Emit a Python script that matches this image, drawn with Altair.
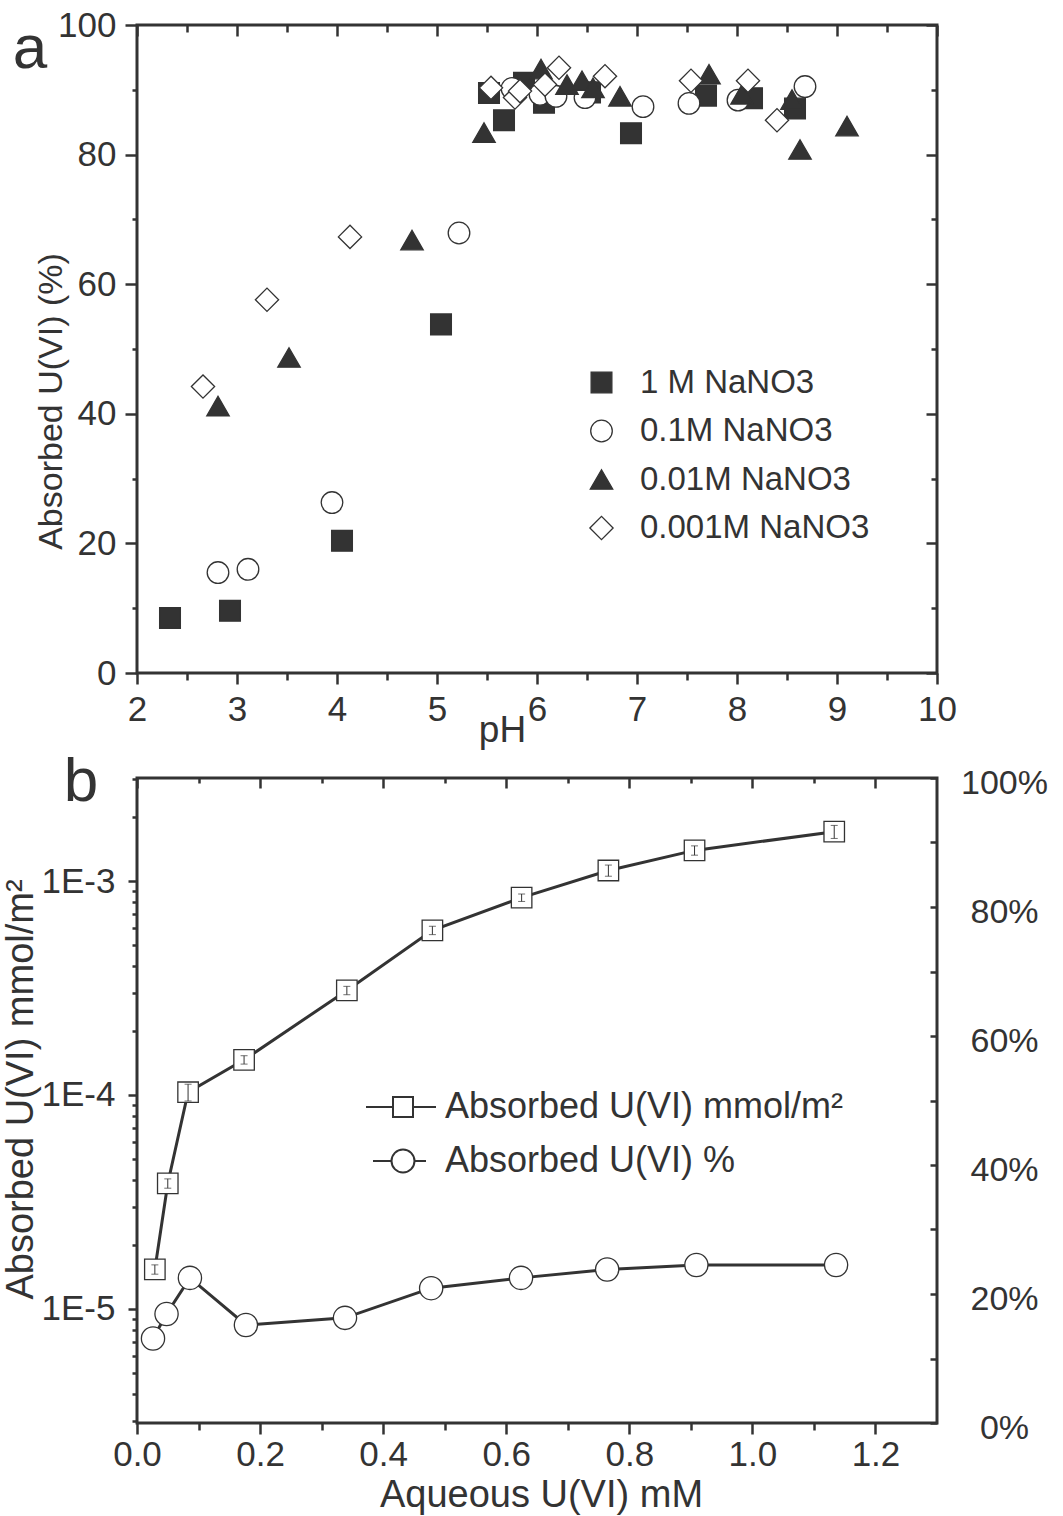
import altair as alt
import pandas as pd

INK = "#333333"
FONT = "Liberation Sans"

# ---------------- panel a: uptake vs pH at four ionic strengths ----------------
series_names = ["1 M NaNO3", "0.1M NaNO3", "0.01M NaNO3", "0.001M NaNO3"]
series_shapes = ["square", "circle", "triangle-up", "diamond"]
series_fills = [INK, "white", INK, "white"]
series_strokes = [INK, INK, INK, INK]
series_sizes = [430, 540, 700, 680]

ph_1M = [2.33, 2.93, 4.05, 5.04, 5.52, 5.67, 5.87, 6.07, 6.53, 6.94, 7.69, 8.15, 8.58]
up_1M = [8.5, 9.6, 20.4, 53.8, 89.5, 85.3, 91.1, 88.0, 89.6, 83.3, 89.1, 88.7, 87.1]

ph_01M = [2.81, 3.11, 3.95, 5.22, 5.75, 6.03, 6.19, 6.48, 7.06, 7.52, 8.01, 8.68]
up_01M = [15.5, 16.0, 26.3, 67.9, 90.2, 89.3, 89.0, 88.8, 87.4, 87.9, 88.4, 90.5]

ph_001M = [2.81, 3.52, 4.75, 5.47, 6.04, 6.30, 6.45, 6.56, 6.83, 7.72, 8.05, 8.55, 8.63, 9.10]
up_001M = [41.2, 48.7, 66.8, 83.4, 93.2, 90.8, 91.4, 90.3, 89.0, 92.4, 89.3, 88.5, 80.8, 84.4]

ph_0001M = [2.66, 3.30, 4.13, 5.54, 5.78, 5.83, 6.08, 6.22, 6.68, 7.54, 8.11, 8.40]
up_0001M = [44.2, 57.6, 67.3, 90.3, 88.8, 89.8, 90.8, 93.4, 92.1, 91.4, 91.4, 85.3]

ph_ticks = [2 + 0.5 * i for i in range(17)]
pct_ticks = [10 * i for i in range(11)]

# ---------------- panel b: isotherm ----------------
aq_sq = [0.029, 0.050, 0.083, 0.174, 0.341, 0.480, 0.625, 0.766, 0.906, 1.133]
sorbed_mmol = [1.53e-5, 3.86e-5, 1.03e-4, 1.46e-4, 3.08e-4, 5.88e-4, 8.36e-4, 1.12e-3, 1.39e-3, 1.70e-3]
# relative standard deviation of each sorbed amount
sorbed_rel_err = [0.05, 0.05, 0.09, 0.045, 0.045, 0.045, 0.04, 0.06, 0.05, 0.07]

aq_ci = [0.026, 0.048, 0.086, 0.177, 0.338, 0.478, 0.624, 0.764, 0.909, 1.136]
sorbed_pct = [13.1, 16.9, 22.5, 15.2, 16.3, 20.9, 22.5, 23.8, 24.5, 24.5]

legend_b = ["Absorbed U(VI) mmol/m²", "Absorbed U(VI) %"]
legend_b_glyphs = [
    "M-3.7,0H-1M1,0H3.3M-1,-1H1V1H-1Z",
    "M-3,0H-1.15M1.15,0H2.3M-1.15,0A1.15,1.15,0,1,1,1.15,0A1.15,1.15,0,1,1,-1.15,0Z",
]

aq_ticks = [round(0.1 * i, 1) for i in range(13)]
log_ticks = [m * 10.0 ** e for e in (-6, -5, -4, -3) for m in range(1, 10)]
log_ticks = [v for v in log_ticks if 2.95e-6 <= v <= 3.02e-3]

# ---------------- tables ----------------
rows = []
for name, xs, ys in zip(series_names, [ph_1M, ph_01M, ph_001M, ph_0001M],
                        [up_1M, up_01M, up_001M, up_0001M]):
    rows += [{"pH": x, "uptake": y, "series": name} for x, y in zip(xs, ys)]
df_a = pd.DataFrame(rows)
df_sq = pd.DataFrame({"aq": aq_sq, "mmol": sorbed_mmol, "rel": sorbed_rel_err})
df_sq["lo"] = df_sq["mmol"] * (1 - df_sq["rel"])
df_sq["hi"] = df_sq["mmol"] * (1 + df_sq["rel"])
df_ci = pd.DataFrame({"aq": aq_ci, "pct": sorbed_pct})
df_lg = pd.DataFrame({"lg": legend_b})

tick_style = dict(domain=False, grid=False, tickColor=INK, tickWidth=2.5,
                  labelColor=INK, labelFont=FONT, titleColor=INK, titleFont=FONT,
                  titleFontWeight="normal")

# ---------------- panel a ----------------
W, HA, HB = 800, 648, 645
ph_scale = alt.Scale(domain=[2, 10], nice=False, zero=False)
up_scale = alt.Scale(domain=[0, 100], nice=False)

x_bottom_a = alt.Axis(orient="bottom", values=ph_ticks,
                      labelExpr="datum.value % 1 == 0 ? format(datum.value, 'd') : ''",
                      tickSize={"condition": {"test": "datum.value % 1 == 0", "value": 11}, "value": 7},
                      labelFontSize=35, labelPadding=8, labelFlush=False, labelOverlap=False,
                      title="pH", titleFontSize=37, titleX=365, titleY=68,
                      titleBaseline="alphabetic", titleAlign="center", **tick_style)
y_left_a = alt.Axis(orient="left", values=pct_ticks,
                    labelExpr="datum.value % 20 == 0 ? format(datum.value, 'd') : ''",
                    tickSize={"condition": {"test": "datum.value % 20 == 0", "value": 12}, "value": 5},
                    labelFontSize=35, labelPadding=9, labelFlush=False, labelOverlap=False,
                    title="Absorbed U(VI) (%)", titleFontSize=34, titleAngle=270,
                    titleX=-86, titleY=376, titleAlign="center", titleBaseline="middle",
                    **tick_style)

legend_a = alt.Legend(title=None, orient="none", legendX=448, legendY=341,
                      labelFontSize=33, labelFont=FONT, labelColor=INK,
                      labelOffset=22, rowPadding=14.5, padding=0,
                      symbolStrokeWidth=1.3, labelLimit=400)

points_a = alt.Chart(df_a).mark_point(filled=True, strokeWidth=1.3, opacity=1).encode(
    x=alt.X("pH:Q", scale=ph_scale, axis=x_bottom_a),
    y=alt.Y("uptake:Q", scale=up_scale, axis=y_left_a),
    shape=alt.Shape("series:N", scale=alt.Scale(domain=series_names, range=series_shapes), legend=legend_a),
    fill=alt.Fill("series:N", scale=alt.Scale(domain=series_names, range=series_fills), legend=legend_a),
    stroke=alt.Stroke("series:N", scale=alt.Scale(domain=series_names, range=series_strokes), legend=legend_a),
    size=alt.Size("series:N", scale=alt.Scale(domain=series_names, range=series_sizes), legend=legend_a),
)


def inner_ticks(df, xf, yf, xs, ys, xvals, xlen, yvals, ylen):
    """Invisible layer that only carries inward-pointing top/right ticks."""
    return alt.Chart(df).mark_point(opacity=0).encode(
        x=alt.X(xf, scale=xs, axis=alt.Axis(orient="top", values=xvals, labels=False,
                                              tickSize=xlen, offset=-xlen, title=None,
                                              **tick_style)),
        y=alt.Y(yf, scale=ys, axis=alt.Axis(orient="right", values=yvals, labels=False,
                                              tickSize=ylen, offset=-ylen, title=None,
                                              **tick_style)),
    )


ticks_a_major = inner_ticks(df_a, "pH:Q", "uptake:Q", ph_scale, up_scale,
                            [2 + i for i in range(9)], 11, [20 * i for i in range(6)], 11)
ticks_a_minor = inner_ticks(df_a, "pH:Q", "uptake:Q", ph_scale, up_scale,
                            [2.5 + i for i in range(8)], 7, [10 + 20 * i for i in range(5)], 6)

tag_a = alt.Chart(pd.DataFrame({"t": ["a"]})).mark_text(
    fontSize=62, font=FONT, color=INK, align="center", baseline="alphabetic"
).encode(text="t:N", x=alt.value(-107), y=alt.value(43))

panel_a = alt.layer(points_a, ticks_a_major, ticks_a_minor, tag_a).resolve_axis(
    x="independent", y="independent"
).properties(width=W, height=HA)

# ---------------- panel b ----------------
aq_scale = alt.Scale(domain=[0, 1.3], nice=False, zero=False)
mmol_scale = alt.Scale(type="log", domain=[2.93e-6, 3.03e-3], nice=False)
pct_scale = alt.Scale(domain=[0, 100], nice=False)

is_major_aq = "round(datum.value * 10) % 2 == 0"
x_bottom_b = alt.Axis(orient="bottom", values=aq_ticks,
                      labelExpr=f"{is_major_aq} ? format(datum.value, '.1f') : ''",
                      tickSize={"condition": {"test": is_major_aq, "value": 11}, "value": 7},
                      labelFontSize=35, labelPadding=3, labelFlush=False, labelOverlap=False,
                      title="Aqueous U(VI) mM", titleFontSize=38, titleX=404, titleY=83,
                      titleBaseline="alphabetic", titleAlign="center", **tick_style)
is_decade = "abs(log(datum.value) / LN10 - round(log(datum.value) / LN10)) < 0.001"
y_left_b = alt.Axis(orient="left", values=log_ticks,
                    labelExpr=f"{is_decade} ? '1E' + round(log(datum.value) / LN10) : ''",
                    tickSize={"condition": {"test": is_decade, "value": 9}, "value": 5},
                    labelFontSize=35, labelPadding=13, labelFlush=False, labelOverlap=False,
                    title="Absorbed U(VI) mmol/m²", titleFontSize=38, titleAngle=270,
                    titleX=-116, titleY=311, titleAlign="center", titleBaseline="middle",
                    **tick_style)
y_right_b = alt.Axis(orient="right", values=pct_ticks, tickSize=7, offset=-7,
                     labelExpr="datum.value % 20 == 0 ? format(datum.value, 'd') + '%' : ''",
                     labelFontSize=34, labelPadding=67, labelAlign="center", labelOffset=5,
                     labelFlush=False, labelOverlap=False, title=None, **tick_style)
x_top_b_major = alt.Axis(orient="top", values=[0.2 * i for i in range(7)], labels=False,
                         tickSize=10, offset=-10, title=None, **tick_style)
x_top_b_minor = alt.Axis(orient="top", values=[0.1 + 0.2 * i for i in range(6)], labels=False,
                         tickSize=5, offset=-5, title=None, **tick_style)

enc_sq = dict(x=alt.X("aq:Q", scale=aq_scale, axis=x_bottom_b),
              y=alt.Y("mmol:Q", scale=mmol_scale, axis=y_left_b))

line_sq = alt.Chart(df_sq).mark_line(color=INK, strokeWidth=3).encode(**enc_sq)
pts_sq = alt.Chart(df_sq).mark_point(shape="square", size=420, fill="white", stroke=INK,
                                     strokeWidth=1.3, opacity=1, filled=True).encode(**enc_sq)
err_rule = alt.Chart(df_sq).mark_rule(color=INK, strokeWidth=1).encode(
    x=alt.X("aq:Q", scale=aq_scale, axis=x_bottom_b),
    y=alt.Y("lo:Q", scale=mmol_scale, axis=y_left_b),
    y2="hi:Q",
)
err_lo = alt.Chart(df_sq).mark_tick(color=INK, orient="horizontal", size=7, thickness=1).encode(
    x=alt.X("aq:Q", scale=aq_scale, axis=x_bottom_b),
    y=alt.Y("lo:Q", scale=mmol_scale, axis=y_left_b),
)
err_hi = alt.Chart(df_sq).mark_tick(color=INK, orient="horizontal", size=7, thickness=1).encode(
    x=alt.X("aq:Q", scale=aq_scale, axis=x_bottom_b),
    y=alt.Y("hi:Q", scale=mmol_scale, axis=y_left_b),
)
legend_b_layer = alt.Chart(df_lg).transform_filter("false").mark_point(
    size=400, color=INK, strokeWidth=2, opacity=1, filled=False
).encode(
    shape=alt.Shape("lg:N", scale=alt.Scale(domain=legend_b, range=legend_b_glyphs),
                    legend=alt.Legend(title=None, orient="none", legendX=248, legendY=311,
                                      labelFontSize=36, labelFont=FONT, labelColor=INK,
                                      labelOffset=24, rowPadding=18, padding=0,
                                      symbolSize=400, symbolStrokeWidth=2,
                                      symbolStrokeColor=INK, labelLimit=600)),
)
tag_b = alt.Chart(pd.DataFrame({"t": ["b"]})).mark_text(
    fontSize=62, font=FONT, color=INK, align="center", baseline="alphabetic"
).encode(text="t:N", x=alt.value(-56), y=alt.value(23))

left_group = alt.layer(line_sq, pts_sq, err_rule, err_lo, err_hi, legend_b_layer, tag_b)

enc_ci = dict(x=alt.X("aq:Q", scale=aq_scale, axis=x_top_b_major),
              y=alt.Y("pct:Q", scale=pct_scale, axis=y_right_b))
line_ci = alt.Chart(df_ci).mark_line(color=INK, strokeWidth=3).encode(**enc_ci)
pts_ci = alt.Chart(df_ci).mark_point(shape="circle", size=540, fill="white", stroke=INK,
                                     strokeWidth=1.3, opacity=1, filled=True).encode(**enc_ci)
right_group = alt.layer(line_ci, pts_ci)

minor_top_b = alt.Chart(df_ci).mark_point(opacity=0).encode(
    x=alt.X("aq:Q", scale=aq_scale, axis=x_top_b_minor),
    y=alt.Y("pct:Q", scale=pct_scale, axis=None),
)

panel_b = alt.layer(left_group, right_group, minor_top_b).resolve_scale(
    y="independent"
).resolve_axis(x="independent", y="independent").properties(width=W, height=HB)

chart = alt.vconcat(panel_a, panel_b, spacing=-1).resolve_scale(
    shape="independent", fill="independent", stroke="independent", size="independent"
).resolve_legend(
    shape="independent", fill="independent", stroke="independent", size="independent"
).properties(
    padding={"left": 0, "top": 6, "right": 5, "bottom": 4},
    background="white",
).configure_view(stroke=INK, strokeWidth=3)

chart.save("out.html", embed_options={"renderer": "svg", "actions": False})
